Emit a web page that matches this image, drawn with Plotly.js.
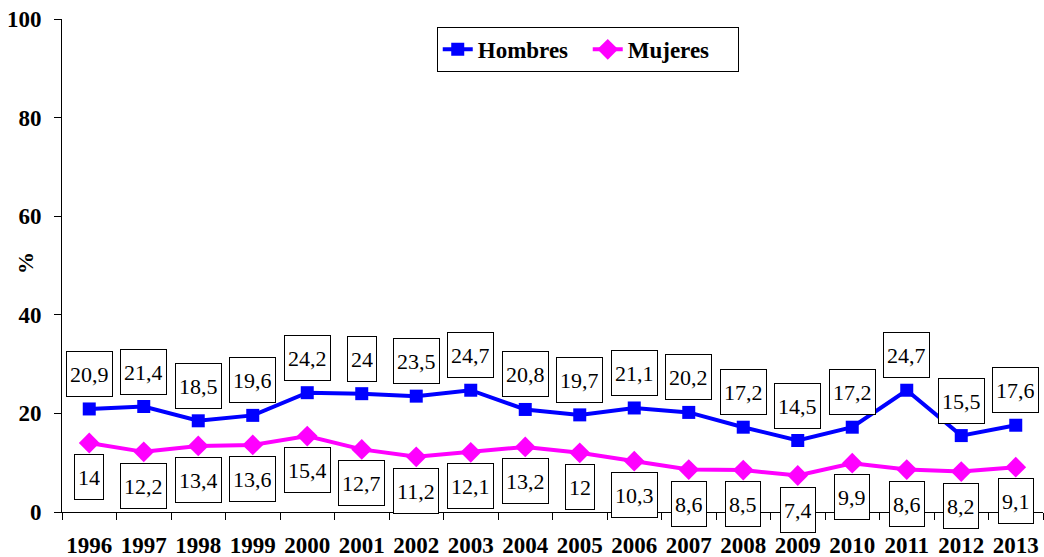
<!DOCTYPE html>
<html>
<head>
<meta charset="utf-8">
<script src="https://cdn.plot.ly/plotly-3.0.1.min.js"></script>
<style>html,body{margin:0;padding:0;background:#fff;}#chart{width:1044px;height:557px;}</style>
</head>
<body>
<div id="chart"></div>
<script>
const years = ["1996","1997","1998","1999","2000","2001","2002","2003","2004","2005","2006","2007","2008","2009","2010","2011","2012","2013"];
const hombres = [20.9,21.4,18.5,19.6,24.2,24,23.5,24.7,20.8,19.7,21.1,20.2,17.2,14.5,17.2,24.7,15.5,17.6];
const mujeres = [14,12.2,13.4,13.6,15.4,12.7,11.2,12.1,13.2,12,10.3,8.6,8.5,7.4,9.9,8.6,8.2,9.1];

const serif = "Liberation Serif, Times New Roman, Times, serif";
const fmt = v => String(v).replace('.', ',');

const traces = [
  {x: years, y: hombres, name: 'Hombres', type: 'scatter', mode: 'lines+markers',
   line: {color: '#0000FF', width: 4}, marker: {symbol: 'square', size: 13, color: '#0000FF'}},
  {x: years, y: mujeres, name: 'Mujeres', type: 'scatter', mode: 'lines+markers',
   line: {color: '#FF00FF', width: 4}, marker: {symbol: 'diamond', size: 16, color: '#FF00FF'}}
];

const annotations = [];
years.forEach((yr, i) => {
  annotations.push({x: i, y: hombres[i], xref: 'x', yref: 'y', text: fmt(hombres[i]), showarrow: false,
    yshift: 35, font: {family: serif, size: 22, color: '#000'}, bgcolor: '#fff', bordercolor: '#000',
    borderwidth: 1, borderpad: 3, height: 38});
  annotations.push({x: i, y: mujeres[i], xref: 'x', yref: 'y', text: fmt(mujeres[i]), showarrow: false,
    yshift: -34, font: {family: serif, size: 22, color: '#000'}, bgcolor: '#fff', bordercolor: '#000',
    borderwidth: 1, borderpad: 3, height: 38});
});
annotations.push({x: -0.0377, y: 0.505, xref: 'paper', yref: 'paper', text: '%', showarrow: false,
  textangle: -90, xanchor: 'center', yanchor: 'middle',
  font: {family: serif, size: 22, color: '#000', weight: 'bold'}});

const layout = {
  width: 1044, height: 557,
  margin: {l: 62, r: 1, t: 19, b: 45},
  paper_bgcolor: '#fff', plot_bgcolor: '#fff',
  showlegend: true,
  legend: {orientation: 'h', x: 0.382, y: 0.984, xanchor: 'left', yanchor: 'top',
    bordercolor: '#000', borderwidth: 1, bgcolor: '#fff', entrywidth: 105, entrywidthmode: 'pixels',
    font: {family: serif, size: 23, color: '#000', weight: 'bold'}},
  xaxis: {type: 'category', range: [-0.5, 17.5], showline: true, linecolor: '#000', linewidth: 1,
    ticks: 'outside', tickson: 'boundaries', ticklen: 7, tickcolor: '#000', showgrid: false, zeroline: false,
    ticklabelstandoff: 12, tickangle: 0,
    tickfont: {family: serif, size: 23, color: '#000', weight: 'bold'}},
  yaxis: {range: [0, 100], tickvals: [0,20,40,60,80,100], showline: true, linecolor: '#000', linewidth: 1,
    ticks: 'outside', ticklen: 7, tickcolor: '#000', showgrid: false, zeroline: false,
    ticklabelstandoff: 8,
    tickfont: {family: serif, size: 23, color: '#000', weight: 'bold'}},
  annotations: annotations
};

Plotly.newPlot('chart', traces, layout, {displayModeBar: false, staticPlot: true});
</script>
</body>
</html>
